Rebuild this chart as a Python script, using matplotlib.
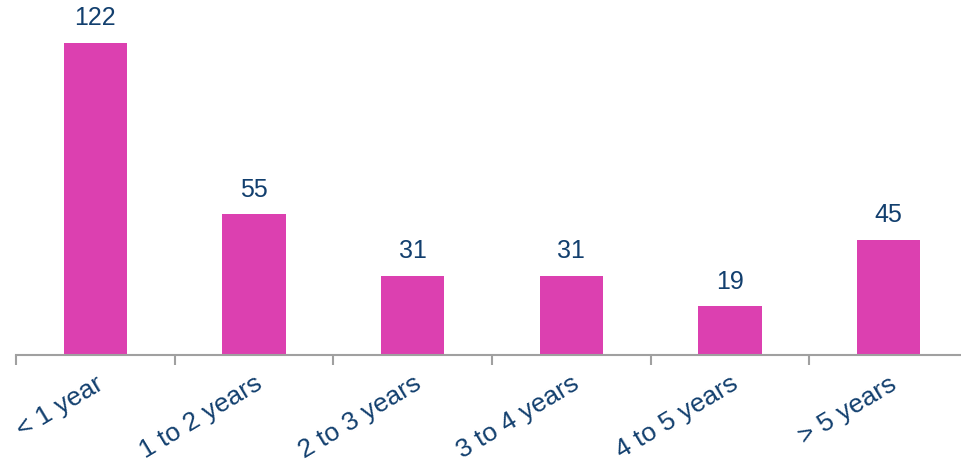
import matplotlib.pyplot as plt
import numpy as np

plt.rcParams['font.family'] = ['Liberation Sans', 'DejaVu Sans']

CATEGORIES = ["< 1 year", "1 to 2 years", "2 to 3 years", "3 to 4 years",
              "4 to 5 years", "> 5 years"]
VALUES = [122, 55, 31, 31, 19, 45]

BAR_COLOR = "#DC40B0"
TEXT_COLOR = "#123F6E"
AXIS_COLOR = "#A0A0A0"

W, H = 961, 466
fig = plt.figure(figsize=(W / 100, H / 100), dpi=100)
left, right, base = 16, 968, 355
ax = fig.add_axes([left / W, (H - base) / H, (right - left) / W, base / H])

x = np.arange(len(VALUES))
ax.bar(x, VALUES, width=0.4, color=BAR_COLOR)
for xi, v in zip(x, VALUES):
    ax.text(xi, v + 5, str(v), ha="center", va="bottom", fontsize=18,
            color=TEXT_COLOR)

ax.set_xlim(-0.5, len(VALUES) - 0.5)
ax.set_ylim(0, base / 2.557)

for s in ["top", "right", "left"]:
    ax.spines[s].set_visible(False)
ax.spines["bottom"].set_color(AXIS_COLOR)
ax.spines["bottom"].set_linewidth(1.5)
ax.set_yticks([])

ax.set_xticks(x)
ax.set_xticklabels(CATEGORIES, rotation=31, ha="right", va="top",
                   rotation_mode="anchor", fontsize=19, color=TEXT_COLOR)
ax.tick_params(axis="x", which="major", length=0, pad=12)
ax.set_xticks(np.arange(-0.5, len(VALUES) - 1), minor=True)
ax.tick_params(axis="x", which="minor", length=7, width=1.5,
               color=AXIS_COLOR, direction="out")

fig.savefig("out.png", dpi=100)
